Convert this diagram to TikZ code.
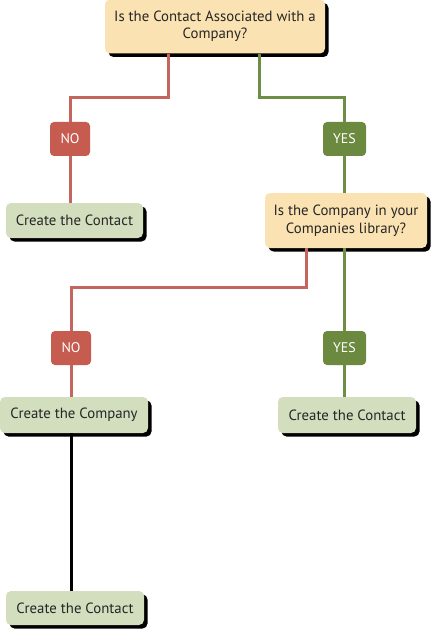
\documentclass[tikz,border=0pt]{standalone}
\usepackage{fontspec}
\setmainfont{PT Sans}
\usetikzlibrary{shadows}
\definecolor{qfill}{HTML}{FBE2B2}
\definecolor{afill}{HTML}{D2DEBE}
\definecolor{nored}{HTML}{C65B50}
\definecolor{yesgreen}{HTML}{6B8A40}
\definecolor{redline}{HTML}{C4665D}
\definecolor{greenline}{HTML}{6E8D45}
\tikzset{
  shadowbox/.style={rounded corners=5pt, drop shadow={shadow xshift=3.5pt, shadow yshift=-3.5pt, fill=black, opacity=1}, inner sep=2pt, align=center, font=\fontsize{14.8}{17.5}\selectfont, text=black!85},
  question/.style={shadowbox, fill=qfill},
  action/.style={shadowbox, fill=afill, minimum height=35pt},
  answer/.style={rounded corners=4pt, minimum width=40pt, minimum height=34pt, inner sep=0pt, text=white, font=\fontsize{14}{16}\selectfont},
  nobox/.style={answer, fill=nored},
  yesbox/.style={answer, fill=yesgreen, minimum width=43pt},
  rline/.style={draw=redline, line width=3pt},
  gline/.style={draw=greenline, line width=3pt},
  kline/.style={draw=black, line width=3pt},
}
\begin{document}
\begin{tikzpicture}[x=1pt,y=-1pt]
\useasboundingbox (0,0) rectangle (433,631);
% nodes
\node[question, minimum width=220pt, minimum height=54pt] (q1) at (215,26.5) {Is the Contact Associated with a\\Company?};
\node[nobox] (no1) at (70,139) {NO};
\node[yesbox] (yes1) at (344.5,139) {YES};
\node[action, minimum width=137pt] (c1) at (74.5,220.5) {Create the Contact};
\node[question, minimum width=162pt, minimum height=55pt] (q2) at (346,220.5) {Is the Company in your\\Companies library?};
\node[nobox] (no2) at (71,348) {NO};
\node[yesbox] (yes2) at (344.5,348) {YES};
\node[action, minimum width=148pt, minimum height=36pt] (comp) at (74,415) {Create the Company};
\node[action, minimum width=138pt, minimum height=36pt] (c2) at (347,415) {Create the Contact};
\node[action, minimum width=138pt, minimum height=34pt] (c3) at (75,608) {Create the Contact};
% junctions
\coordinate (j1) at (168,98);
\coordinate (j2) at (259,98);
\coordinate (j3) at (306,287);
% connectors
\draw[rline] (q1.south -| j1) -- (j1) -| (no1.north);
\draw[rline] (no1.south) -- (c1.north -| no1.south);
\draw[gline] (q1.south -| j2) -- (j2) -| (yes1.north);
\draw[gline] (yes1.south) -- (q2.north -| yes1.south);
\draw[rline] (q2.south -| j3) -- (j3) -| (no2.north);
\draw[rline] (no2.south) -- (comp.north -| no2.south);
\draw[gline] (q2.south -| yes2.north) -- (yes2.north);
\draw[gline] (yes2.south) -- (c2.north -| yes2.south);
\draw[kline] (comp.south -| no2.south) -- (c3.north -| no2.south);
\end{tikzpicture}
\end{document}
